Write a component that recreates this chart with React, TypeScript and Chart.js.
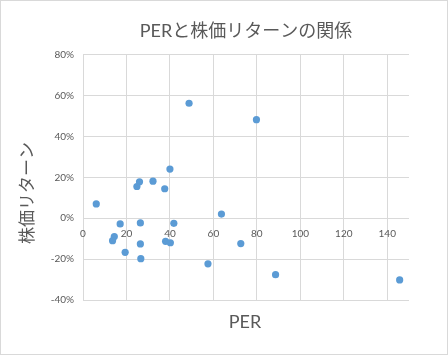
import React, { useEffect, useRef } from "react";
import { Chart, registerables } from "chart.js";

Chart.register(...registerables);

const perRatios = [48.8, 40.0, 32.2, 26.0, 24.8, 37.6, 6.1, 17.1, 26.4, 41.8, 63.7, 14.4, 13.6, 26.4, 38.0, 40.2, 19.4, 26.6, 57.5, 72.6, 88.6, 145.7, 79.8];
const stockReturns = [56.2, 24.0, 18.1, 17.8, 15.5, 14.4, 7.0, -2.8, -2.3, -2.5, 2.0, -9.0, -11.0, -12.6, -11.3, -12.0, -16.7, -19.8, -22.3, -12.4, -27.6, -30.2, 48.2];

const xTickValues = [0, 20, 40, 60, 80, 100, 120, 140];
const yTickValues = [-40, -20, 0, 20, 40, 60, 80];

const chartTitle = "PERと株価リターンの関係";
const xTitle = "PER";
const yTitle = "株価リターン";
const xMin = 0, xMax = 150;
const yMin = -40, yMax = 80;

const FONT = "Lato, 'Noto Sans CJK JP', sans-serif";
const TEXT = "#595959";
const GRID = "#d9d9d9";
const DOT = "#5B9BD5";

export default function App() {
  const ref = useRef<HTMLCanvasElement | null>(null);

  useEffect(() => {
    if (!ref.current) return;
    const extras = {
      id: "extras",
      beforeDraw(chart: any) {
        const ctx = chart.ctx;
        ctx.save();
        ctx.fillStyle = "#ffffff";
        ctx.fillRect(0, 0, chart.width, chart.height);
        ctx.strokeStyle = GRID;
        ctx.lineWidth = 1;
        ctx.strokeRect(0.5, 0.5, chart.width - 1, chart.height - 1);
        ctx.restore();
      },
      afterDraw(chart: any) {
        const ctx = chart.ctx;
        ctx.save();
        ctx.fillStyle = TEXT;
        ctx.textAlign = "center";
        ctx.textBaseline = "middle";
        ctx.font = `18px ${FONT}`;
        ctx.fillText(xTitle, 245, 322);
        ctx.translate(28, 193);
        ctx.rotate(-Math.PI / 2);
        ctx.font = `17px ${FONT}`;
        ctx.fillText(yTitle, 0, 0);
        ctx.restore();
      },
    };
    const chart = new Chart(ref.current, {
      type: "scatter",
      data: {
        datasets: [
          {
            label: "returns",
            data: perRatios.map((x, i) => ({ x, y: stockReturns[i] })),
            backgroundColor: DOT,
            borderColor: DOT,
            borderWidth: 0,
            pointRadius: 3.6,
            pointHoverRadius: 3.6,
          },
        ],
      },
      options: {
        responsive: false,
        animation: false,
        layout: { padding: { left: 0, right: 39, top: 0, bottom: 55 } },
        plugins: {
          legend: { display: false },
          tooltip: { enabled: false },
          title: {
            display: true,
            text: chartTitle,
            fullSize: false,
            color: TEXT,
            font: { family: FONT, size: 18, weight: "normal" },
            padding: { top: 20, bottom: 13 },
          },
        },
        scales: {
          x: {
            type: "linear",
            axis: "x",
            position: { y: 0 } as any,
            min: xMin,
            max: xMax,
            border: { display: false },
            afterBuildTicks: (s: any) => {
              s.ticks = xTickValues.map((value) => ({ value }));
            },
            grid: { color: GRID, drawTicks: false, lineWidth: 1 },
            ticks: {
              padding: 10,
              color: TEXT,
              font: { family: FONT, size: 10 },
              callback: (v: any) => String(v),
            },
          },
          y: {
            type: "linear",
            min: yMin,
            max: yMax,
            border: { display: false },
            afterBuildTicks: (s: any) => {
              s.ticks = yTickValues.map((value) => ({ value }));
            },
            grid: { color: GRID, drawTicks: false, lineWidth: 1 },
            afterFit: (s: any) => {
              s.width = 83;
            },
            ticks: {
              padding: 9,
              color: TEXT,
              font: { family: FONT, size: 10 },
              callback: (v: any) => `${v}%`,
            },
          },
        },
      },
      plugins: [extras],
    });
    return () => chart.destroy();
  }, []);

  return (
    <div style={{ position: "absolute", left: 0, top: 0, width: 448, height: 355 }}>
      <canvas ref={ref} width={448} height={355} style={{ display: "block", width: 448, height: 355 }} />
    </div>
  );
}
